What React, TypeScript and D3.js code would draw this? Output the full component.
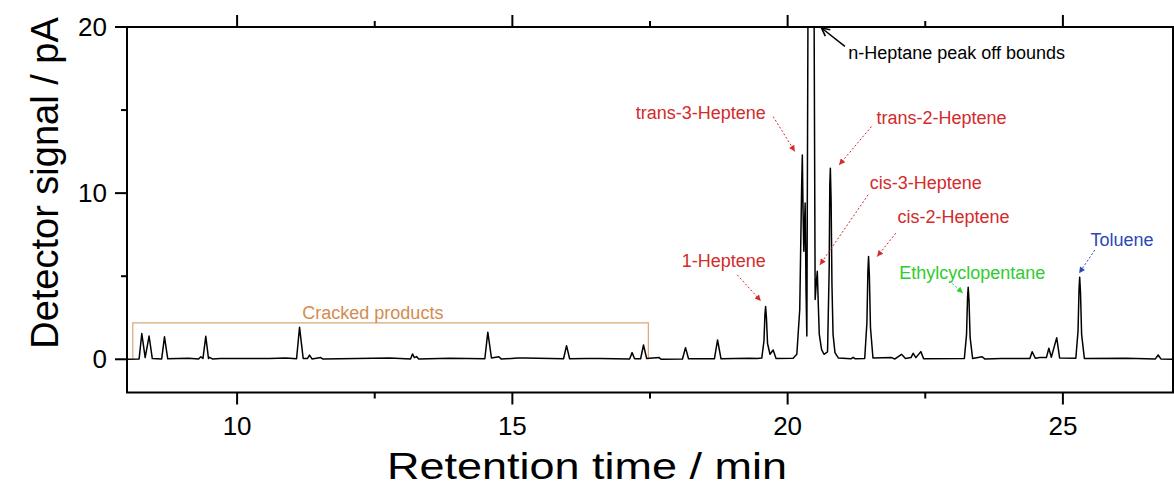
import React from "react";
import * as d3 from "d3";

// retention time (min) / detector signal (pA)
const crackedTrace: [number, number][] = [
  [8.0, 0], [8.22, 0.02], [8.269, 1.55], [8.33, 0.1], [8.401, 1.4], [8.46, 0.04],
  [8.63, 0.02], [8.681, 1.35], [8.74, 0.03], [9.117, 0.06], [9.30, 0.02], [9.341, 0.15],
  [9.38, 0.05], [9.431, 1.38], [9.48, 0.05], [9.50, 0.12], [9.55, 0.02], [9.70, 0.05],
  [10.59, 0.05], [10.885, 0.07], [11.08, 0.03], [11.134, 1.93], [11.20, 0.05],
  [11.28, 0.05], [11.315, 0.25], [11.36, 0.02], [11.52, 0.1], [11.56, 0.01],
  [12.774, 0.07], [13.15, 0.02], [13.186, 0.32], [13.22, 0.1], [13.259, 0.16],
  [13.30, 0.02], [13.864, 0.06], [14.50, 0.03], [14.554, 1.63], [14.62, 0.08],
  [14.754, 0.15], [14.80, 0.01], [15.099, 0.08], [15.226, 0.08], [15.93, 0.03],
  [15.984, 0.82], [16.04, 0.03], [16.347, 0.05], [16.589, 0.05], [17.13, 0.02],
  [17.175, 0.4], [17.22, 0.03], [17.33, 0.03], [17.382, 0.86], [17.44, 0.04],
  [17.666, 0.1], [17.70, 0.0]
];

const hepteneTrace: [number, number][] = [
  [18.09, 0.02], [18.145, 0.7], [18.20, 0.03], [18.67, 0.03], [18.727, 1.16],
  [18.79, 0.03], [19.31, 0.06], [19.45, 0.05], [19.53, 0.07], [19.57, 1.1],
  [19.588, 2.7], [19.60, 3.17], [19.615, 2.5], [19.635, 0.95], [19.68, 0.3],
  [19.737, 0.56], [19.79, 0.05], [20.10, 0.06], [20.167, 0.3], [20.22, 3.0],
  [20.255, 10.5], [20.267, 12.3], [20.28, 9.0], [20.294, 6.5], [20.318, 9.4],
  [20.335, 4.0], [20.349, 1.4], [20.374, 25], [20.476, 25], [20.50, 3.6],
  [20.521, 4.6], [20.539, 5.3], [20.555, 3.5], [20.575, 1.5], [20.616, 0.6],
  [20.66, 0.3], [20.725, 0.45], [20.755, 5.5], [20.766, 10.5], [20.776, 11.5],
  [20.79, 9.5], [20.805, 4.5], [20.825, 1.5], [20.86, 0.4], [20.92, 0.08],
  [21.15, 0.03], [21.19, 0.12], [21.23, 0.03], [21.40, 0.05], [21.44, 2.2],
  [21.458, 5.3], [21.47, 6.18], [21.485, 5.0], [21.505, 1.9], [21.55, 0.08]
];

const lateTrace: [number, number][] = [
  [21.887, 0.1], [21.95, 0.02], [22.069, 0.3], [22.14, 0.05], [22.24, 0.1],
  [22.28, 0.36], [22.33, 0.1], [22.42, 0.46], [22.47, 0.03], [23.21, 0.05],
  [23.25, 1.5], [23.268, 3.7], [23.28, 4.34], [23.295, 3.5], [23.315, 1.3],
  [23.36, 0.05], [23.533, 0.15], [23.58, 0.02], [23.886, 0.05], [24.127, 0.05],
  [24.40, 0.04], [24.442, 0.45], [24.50, 0.06], [24.582, 0.1], [24.70, 0.1],
  [24.745, 0.66], [24.79, 0.12], [24.888, 1.3], [24.94, 0.08], [25.235, 0.06],
  [25.275, 1.7], [25.293, 4.2], [25.305, 4.94], [25.32, 4.0], [25.34, 1.5],
  [25.39, 0.05], [26.154, 0.06], [26.68, 0.02], [26.73, 0.26], [26.78, 0.02],
  [27.0, 0]
];

const xMajorTicks = [10, 15, 20, 25];
const xMinorTicks = [12.5, 17.5, 22.5];
const yMajorTicks = [0, 10, 20];
const yMinorTicks = [5, 15];

const crackedRange = [8.105, 17.47];
const crackedLevel = 2.19;

// text: [t, v, anchor], arrow from [t, v] to [t, v]
const labels = [
  { text: "n-Heptane peak off bounds", kind: "black", tx: 21.1, tv: 18.46, anchor: "start", from: [21.04, 18.83], to: [20.616, 19.94] },
  { text: "trans-3-Heptene", kind: "red", tx: 19.604, tv: 14.82, anchor: "end", from: [19.737, 14.61], to: [20.131, 12.51] },
  { text: "trans-2-Heptene", kind: "red", tx: 21.615, tv: 14.52, anchor: "start", from: [21.524, 14.01], to: [20.935, 11.7] },
  { text: "cis-3-Heptene", kind: "red", tx: 21.493, tv: 10.6, anchor: "start", from: [21.462, 9.9], to: [20.585, 5.68] },
  { text: "cis-2-Heptene", kind: "red", tx: 21.997, tv: 8.59, anchor: "start", from: [21.965, 7.59], to: [21.626, 6.18] },
  { text: "1-Heptene", kind: "red", tx: 19.604, tv: 5.94, anchor: "end", from: [19.086, 5.08], to: [19.513, 3.51] },
  { text: "Ethylcyclopentane", kind: "green", tx: 22.026, tv: 5.22, anchor: "start", from: [22.937, 4.72], to: [23.182, 3.99] },
  { text: "Toluene", kind: "blue", tx: 25.502, tv: 7.19, anchor: "start", from: [25.58, 6.58], to: [25.295, 5.18] }
];

const colors: Record<string, string> = {
  black: "#000000",
  red: "#d32a2a",
  green: "#2fcc2f",
  blue: "#2a48b8"
};

export default function App() {
  const width = 1174;
  const height = 490;
  const margin = { top: 27, right: 1, bottom: 97.5, left: 127 };
  const font = "'Liberation Sans', Arial, sans-serif";

  const x = d3.scaleLinear().domain([8, 27]).range([margin.left, width - margin.right]);
  const y = d3.scaleLinear().domain([-2, 20]).range([height - margin.bottom, margin.top]);

  const trace = [...crackedTrace, ...hepteneTrace, ...lateTrace];
  const lineGen = d3.line<[number, number]>()
    .x(d => x(d[0]))
    .y(d => y(d[1]));

  const x0 = margin.left;
  const x1 = width - margin.right;
  const y0 = height - margin.bottom;
  const y1 = margin.top;

  const bracket = `M${x(crackedRange[0])},${y(0)} V${y(crackedLevel)} H${x(crackedRange[1])} V${y(0)}`;

  return (
    <svg width={width} height={height} style={{ position: "absolute", left: 0, top: 0, background: "#fff" }}>
      <defs>
        <clipPath id="plot">
          <rect x={x0} y={y1} width={x1 - x0} height={y0 - y1} />
        </clipPath>
        {["red", "green", "blue"].map(k => (
          <marker key={k} id={`head-${k}`} viewBox="0 0 10 10" refX={10} refY={5}
            markerWidth={9} markerHeight={6} markerUnits="userSpaceOnUse" orient="auto">
            <path d="M0,0 L10,5 L0,10 z" fill={colors[k]} />
          </marker>
        ))}
        <marker id="head-black" viewBox="0 0 10 10" refX={9} refY={5}
          markerWidth={10} markerHeight={10} markerUnits="userSpaceOnUse" orient="auto">
          <path d="M1,1 L9,5 L1,9" fill="none" stroke="#000" strokeWidth={1.6} />
        </marker>
      </defs>

      {/* cracked products bracket */}
      <path d={bracket} fill="none" stroke="#d9a77a" strokeWidth={1.2} />
      <text x={x(12.466)} y={y(2.79)} textAnchor="middle" dominantBaseline="central"
        fontFamily={font} fontSize={18} fill="#d48c50">Cracked products</text>

      {/* trace */}
      <path d={lineGen(trace) || ""} fill="none" stroke="#000" strokeWidth={1.5}
        strokeLinejoin="round" clipPath="url(#plot)" />

      {/* annotations */}
      {labels.map((l, i) => (
        <g key={i}>
          <line x1={x(l.from[0])} y1={y(l.from[1])} x2={x(l.to[0])} y2={y(l.to[1])}
            stroke={colors[l.kind]} strokeWidth={l.kind === "black" ? 1.5 : 1}
            strokeDasharray={l.kind === "black" ? undefined : "2,2"}
            markerEnd={`url(#head-${l.kind})`} />
          <text x={x(l.tx)} y={y(l.tv)} textAnchor={l.anchor as any} dominantBaseline="central"
            fontFamily={font} fontSize={18} fill={colors[l.kind]}>{l.text}</text>
        </g>
      ))}

      {/* frame */}
      <rect x={x0} y={y1} width={x1 - x0} height={y0 - y1} fill="none" stroke="#000" strokeWidth={2} />

      {/* x ticks bottom and top */}
      {xMajorTicks.map(t => (
        <g key={`xm${t}`}>
          <line x1={x(t)} x2={x(t)} y1={y0} y2={y0 + 12} stroke="#000" strokeWidth={2} />
          <line x1={x(t)} x2={x(t)} y1={y1} y2={y1 - 12} stroke="#000" strokeWidth={2} />
          <text x={x(t)} y={y0 + 33} textAnchor="middle" dominantBaseline="central"
            fontFamily={font} fontSize={26} fill="#000">{t}</text>
        </g>
      ))}
      {xMinorTicks.map(t => (
        <g key={`xn${t}`}>
          <line x1={x(t)} x2={x(t)} y1={y0} y2={y0 + 6} stroke="#000" strokeWidth={2} />
          <line x1={x(t)} x2={x(t)} y1={y1} y2={y1 - 6} stroke="#000" strokeWidth={2} />
        </g>
      ))}

      {/* y ticks left and right */}
      {yMajorTicks.map(t => (
        <g key={`ym${t}`}>
          <line x1={x0} x2={x0 - 12} y1={y(t)} y2={y(t)} stroke="#000" strokeWidth={2} />
          <line x1={x1} x2={x1 + 12} y1={y(t)} y2={y(t)} stroke="#000" strokeWidth={2} />
          <text x={x0 - 20} y={y(t)} textAnchor="end" dominantBaseline="central"
            fontFamily={font} fontSize={26} fill="#000">{t}</text>
        </g>
      ))}
      {yMinorTicks.map(t => (
        <g key={`yn${t}`}>
          <line x1={x0} x2={x0 - 6} y1={y(t)} y2={y(t)} stroke="#000" strokeWidth={2} />
          <line x1={x1} x2={x1 + 6} y1={y(t)} y2={y(t)} stroke="#000" strokeWidth={2} />
        </g>
      ))}

      {/* axis titles */}
      <text x={587} y={466} textAnchor="middle" dominantBaseline="central"
        textLength={400} lengthAdjust="spacingAndGlyphs"
        fontFamily={font} fontSize={37} fill="#000">Retention time / min</text>
      <text transform={`translate(45, 183) rotate(-90)`} textAnchor="middle" dominantBaseline="central"
        fontFamily={font} fontSize={38} fill="#000">Detector signal / pA</text>
    </svg>
  );
}
